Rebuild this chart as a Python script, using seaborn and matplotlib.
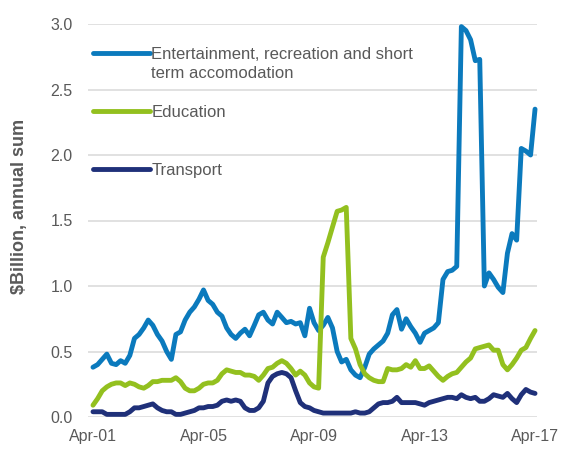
import numpy as np
import pandas as pd
import matplotlib
matplotlib.use("Agg")
import matplotlib.pyplot as plt
import matplotlib.dates as mdates
from matplotlib.lines import Line2D
import seaborn as sns

# bi-monthly readings, Apr-01 .. Apr-17
months = pd.date_range("2001-04-01", periods=97, freq="2MS")

entertainment = [
    0.38, 0.40, 0.44, 0.48, 0.41, 0.40, 0.43, 0.41, 0.47, 0.60,
    0.63, 0.68, 0.74, 0.70, 0.63, 0.58, 0.50, 0.44, 0.63, 0.65,
    0.74, 0.80, 0.84, 0.90, 0.97, 0.89, 0.86, 0.80, 0.77, 0.68,
    0.63, 0.60, 0.64, 0.67, 0.62, 0.70, 0.78, 0.80, 0.74, 0.71,
    0.80, 0.76, 0.72, 0.73, 0.71, 0.72, 0.62, 0.83, 0.72, 0.66,
    0.70, 0.76, 0.68, 0.50, 0.42, 0.44, 0.36, 0.32, 0.30, 0.38,
    0.48, 0.52, 0.55, 0.58, 0.64, 0.78, 0.82, 0.67, 0.75, 0.69,
    0.64, 0.57, 0.64, 0.66, 0.68, 0.72, 1.05, 1.11, 1.12, 1.15,
    2.98, 2.95, 2.88, 2.72, 2.73, 1.00, 1.10, 1.05, 0.99, 0.95,
    1.25, 1.40, 1.35, 2.05, 2.03, 2.00, 2.35,
]

education = [
    0.09, 0.14, 0.20, 0.23, 0.25, 0.26, 0.26, 0.24, 0.26, 0.25,
    0.23, 0.22, 0.24, 0.27, 0.27, 0.28, 0.28, 0.28, 0.30, 0.27,
    0.22, 0.20, 0.20, 0.22, 0.25, 0.26, 0.26, 0.28, 0.33, 0.36,
    0.35, 0.34, 0.34, 0.32, 0.32, 0.31, 0.28, 0.32, 0.37, 0.38,
    0.41, 0.43, 0.41, 0.37, 0.32, 0.35, 0.32, 0.26, 0.23, 0.22,
    1.22, 1.33, 1.45, 1.57, 1.58, 1.60, 0.60, 0.52, 0.40, 0.33,
    0.30, 0.28, 0.27, 0.27, 0.37, 0.36, 0.36, 0.37, 0.40, 0.38,
    0.43, 0.37, 0.37, 0.39, 0.35, 0.31, 0.28, 0.31, 0.33, 0.34,
    0.38, 0.42, 0.45, 0.52, 0.53, 0.54, 0.55, 0.51, 0.51, 0.40,
    0.36, 0.40, 0.45, 0.51, 0.53, 0.60, 0.66,
]

transport = [
    0.04, 0.04, 0.04, 0.02, 0.02, 0.02, 0.02, 0.02, 0.04, 0.07,
    0.07, 0.08, 0.09, 0.10, 0.07, 0.05, 0.04, 0.04, 0.02, 0.02,
    0.03, 0.04, 0.05, 0.07, 0.07, 0.08, 0.08, 0.09, 0.12, 0.13,
    0.12, 0.13, 0.12, 0.07, 0.05, 0.05, 0.07, 0.12, 0.26, 0.31,
    0.33, 0.34, 0.33, 0.30, 0.20, 0.11, 0.08, 0.07, 0.05, 0.04,
    0.03, 0.03, 0.03, 0.03, 0.03, 0.03, 0.03, 0.04, 0.03, 0.03,
    0.04, 0.07, 0.10, 0.11, 0.11, 0.12, 0.15, 0.11, 0.11, 0.11,
    0.11, 0.10, 0.09, 0.11, 0.12, 0.13, 0.14, 0.15, 0.15, 0.14,
    0.17, 0.15, 0.14, 0.15, 0.12, 0.12, 0.14, 0.17, 0.16, 0.15,
    0.18, 0.14, 0.11, 0.17, 0.21, 0.19, 0.18,
]

series_names = ["Entertainment", "Education", "Transport"]
colors = ["#0b7abd", "#93c01f", "#1f3079"]
tick_dates = pd.to_datetime(["2001-04-01", "2005-04-01", "2009-04-01",
                             "2013-04-01", "2017-04-01"])

df = pd.DataFrame({"month": months,
                   "Entertainment": entertainment,
                   "Education": education,
                   "Transport": transport})
long_df = df.melt(id_vars="month", var_name="series", value_name="value")

sns.set_theme(style="white")
plt.rcParams["font.family"] = ["Liberation Sans", "DejaVu Sans"]
grey = "#595959"

fig = plt.figure(figsize=(5.61, 4.5), dpi=100)
ax = fig.add_axes([88 / 561, 33 / 450, 449 / 561, 393 / 450])

sns.lineplot(data=long_df, x="month", y="value", hue="series",
             hue_order=series_names, palette=colors, linewidth=3.5,
             ax=ax, legend=False)
for ln in ax.lines:
    ln.set_clip_on(False)
    ln.set_solid_joinstyle("round")

ax.set_ylim(0, 3)
ax.set_yticks(np.arange(0, 3.01, 0.5))
ax.yaxis.set_major_formatter(plt.FormatStrFormatter("%.1f"))
ax.set_xlim(months[0] - pd.Timedelta(days=66), months[-1] + pd.Timedelta(days=26))
ax.set_xticks(tick_dates)
ax.xaxis.set_major_formatter(mdates.DateFormatter("%b-%y"))

sns.despine(ax=ax, left=True, bottom=True)
ax.yaxis.grid(True, color="#d9d9d9", linewidth=1.1)
ax.xaxis.grid(False)
ax.set_axisbelow(True)
ax.tick_params(axis="both", length=0, labelsize=11.5, labelcolor=grey)
ax.tick_params(axis="y", pad=11)
ax.tick_params(axis="x", pad=9)

ax.set_xlabel("")
ax.set_ylabel(r"\$Billion, annual sum", fontsize=13, fontweight="bold", color=grey)
ax.yaxis.set_label_coords(-0.134, 0.537)

# legend sits inside the plot, first entry wraps onto a second line
blank = Line2D([], [], linewidth=0)
handles = [Line2D([], [], color=colors[0], lw=3.5), blank, blank,
           Line2D([], [], color=colors[1], lw=3.5), blank, blank,
           Line2D([], [], color=colors[2], lw=3.5)]
labels = ["Entertainment, recreation and short", "term accomodation", " ",
          "Education", " ", " ", "Transport"]
leg = ax.legend(handles, labels, loc="upper left", bbox_to_anchor=(0.011, 0.942),
                frameon=False, fontsize=12, handlelength=3.4, handletextpad=0.1,
                labelspacing=0.26, borderpad=0, borderaxespad=0)
for t in leg.get_texts():
    t.set_color(grey)

fig.savefig("out.png", dpi=100)
